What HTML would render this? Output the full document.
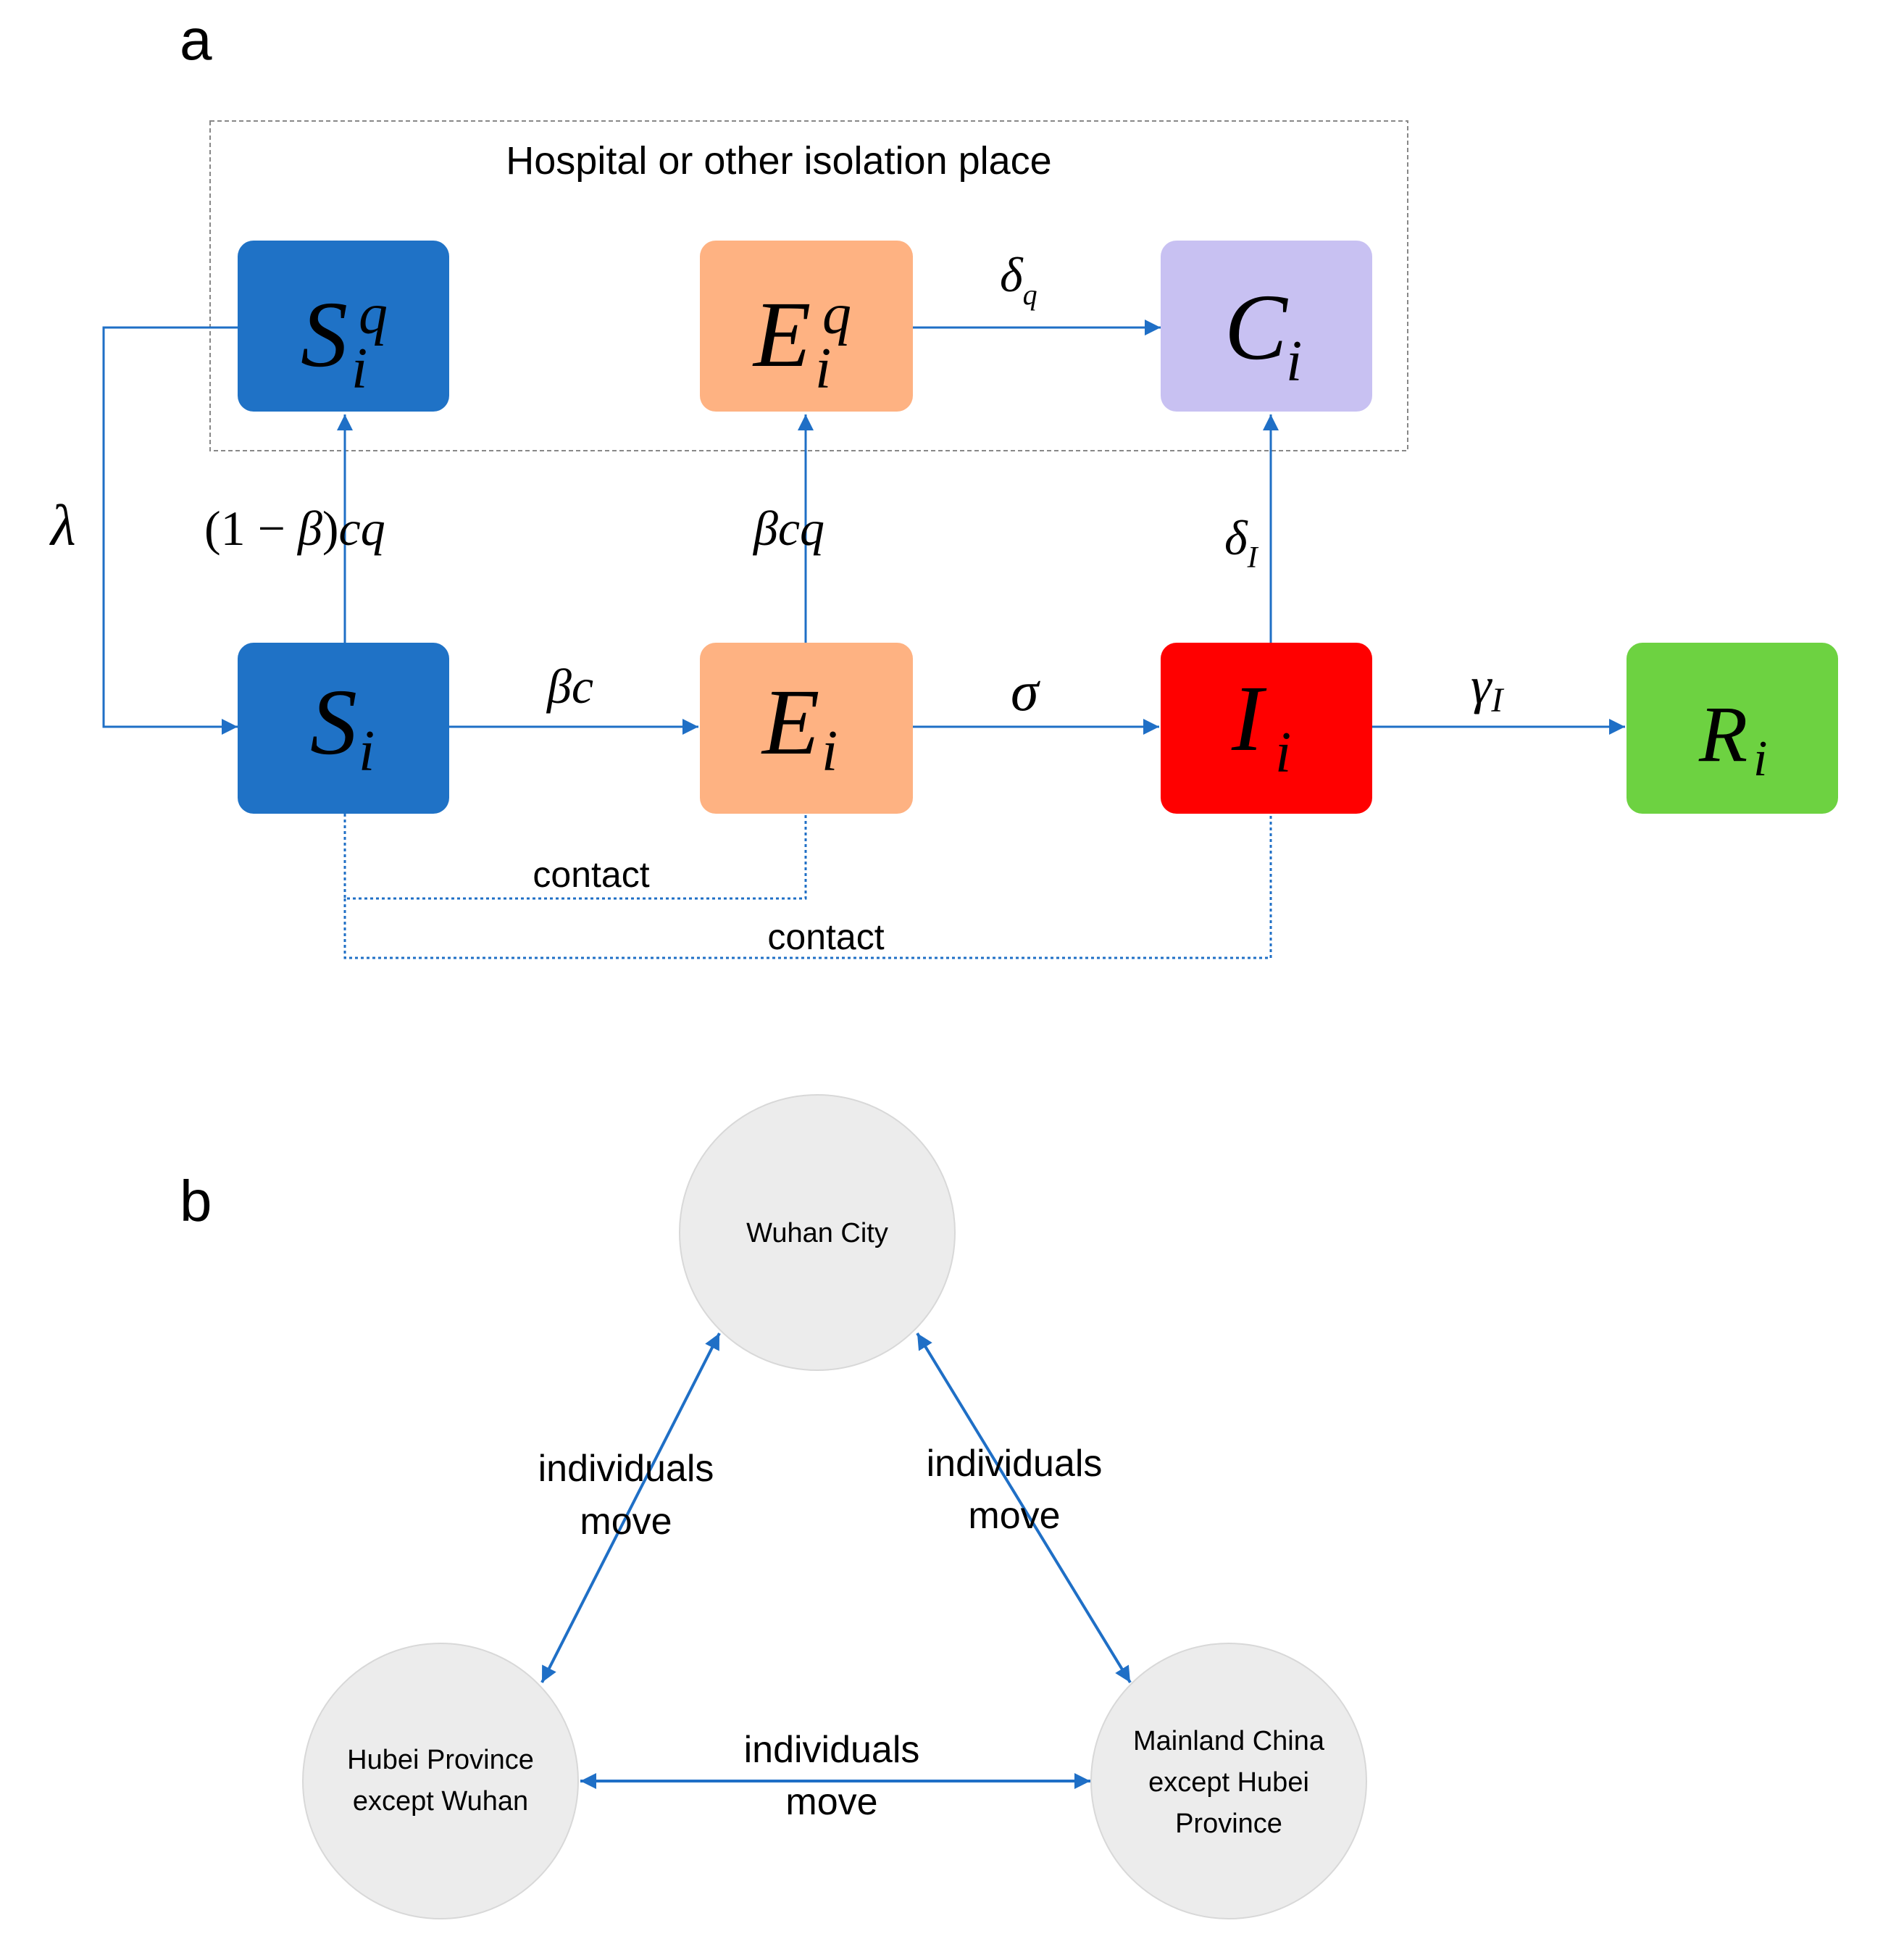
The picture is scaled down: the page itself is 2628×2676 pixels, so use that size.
<!DOCTYPE html>
<html><head><meta charset="utf-8"><style>
html,body{margin:0;padding:0;background:#fff;}
svg{display:block;}
.m{font-family:"Liberation Serif",serif;font-style:italic;fill:#000;}
.t{font-family:"Liberation Sans",sans-serif;fill:#000;}
</style></head><body>
<svg width="2628" height="2676" viewBox="0 0 2628 2676" xmlns="http://www.w3.org/2000/svg">
<defs>
<marker id="a" viewBox="0 0 10 10" refX="10" refY="5" markerWidth="22" markerHeight="22" markerUnits="userSpaceOnUse" orient="auto-start-reverse"><path d="M0,0 L10,5 L0,10 z" fill="#1f6fc6"/></marker>
</defs>
<text x="248" y="82" class="t" font-size="80">a</text>
<rect x="290" y="167" width="1653" height="455" fill="none" stroke="#888" stroke-width="2" stroke-dasharray="6,4"/>
<text x="1075" y="240" class="t" font-size="54" text-anchor="middle">Hospital or other isolation place</text>

<g stroke="#1f6fc6" stroke-width="3" fill="none">
<polyline points="330,452 143,452 143,1003 328,1003" marker-end="url(#a)"/>
<line x1="1260" y1="452" x2="1602" y2="452" marker-end="url(#a)"/>
<line x1="620" y1="1003" x2="964" y2="1003" marker-end="url(#a)"/>
<line x1="1260" y1="1003" x2="1600" y2="1003" marker-end="url(#a)"/>
<line x1="1894" y1="1003" x2="2243" y2="1003" marker-end="url(#a)"/>
<line x1="476" y1="888" x2="476" y2="572" marker-end="url(#a)"/>
<line x1="1112" y1="888" x2="1112" y2="572" marker-end="url(#a)"/>
<line x1="1754" y1="888" x2="1754" y2="572" marker-end="url(#a)"/>
</g>
<g stroke="#1f6fc6" stroke-width="3" fill="none" stroke-dasharray="4,4">
<polyline points="476,1123 476,1240 1112,1240 1112,1123"/>
<polyline points="476,1240 476,1322 1754,1322 1754,1123"/>
</g>

<rect x="328" y="332" width="292" height="236" rx="22" fill="#1f72c6"/>
<rect x="966" y="332" width="294" height="236" rx="22" fill="#feb282"/>
<rect x="1602" y="332" width="292" height="236" rx="22" fill="#c8c1f2"/>
<rect x="328" y="887" width="292" height="236" rx="22" fill="#1f72c6"/>
<rect x="966" y="887" width="294" height="236" rx="22" fill="#feb282"/>
<rect x="1602" y="887" width="292" height="236" rx="22" fill="#ff0000"/>
<rect x="2245" y="887" width="292" height="236" rx="22" fill="#6dd241"/>

<text x="415" y="505" class="m" font-size="130">S</text>
<text x="495" y="460" class="m" font-size="80">q</text>
<text x="485" y="535" class="m" font-size="80">i</text>
<text x="1040" y="505" class="m" font-size="130">E</text>
<text x="1135" y="460" class="m" font-size="80">q</text>
<text x="1125" y="535" class="m" font-size="80">i</text>
<text x="1690" y="495" class="m" font-size="130">C</text>
<text x="1775" y="525" class="m" font-size="80">i</text>
<text x="428" y="1040" class="m" font-size="130">S</text>
<text x="495" y="1063" class="m" font-size="80">i</text>
<text x="1052" y="1040" class="m" font-size="130">E</text>
<text x="1134" y="1063" class="m" font-size="80">i</text>
<text x="1700" y="1035" class="m" font-size="130">I</text>
<text x="1760" y="1065" class="m" font-size="80">i</text>
<text x="2345" y="1050" class="m" font-size="110">R</text>
<text x="2420" y="1070" class="m" font-size="70">i</text>

<text x="70" y="752" class="m" font-size="80">λ</text>
<text x="282" y="752" class="m" font-size="68"><tspan font-style="normal">(1 − </tspan>β<tspan font-style="normal">)</tspan>cq</text>
<text x="1040" y="752" class="m" font-size="68">βcq</text>
<text x="1690" y="765" class="m" font-size="68">δ<tspan font-size="42" dy="18">I</tspan></text>
<text x="1380" y="402" class="m" font-size="68">δ<tspan font-size="40" dy="18">q</tspan></text>
<text x="755" y="970" class="m" font-size="68">βc</text>
<text x="1395" y="980" class="m" font-size="78">σ</text>
<text x="2030" y="970" class="m" font-size="72">γ<tspan font-size="48" dy="12">I</tspan></text>

<text x="816" y="1224" class="t" font-size="50" text-anchor="middle">contact</text>
<text x="1140" y="1310" class="t" font-size="50" text-anchor="middle">contact</text>

<text x="248" y="1685" class="t" font-size="80">b</text>
<g fill="#ececec" stroke="#d8d8d8" stroke-width="2">
<circle cx="1128" cy="1701" r="190"/>
<circle cx="608" cy="2458" r="190"/>
<circle cx="1696" cy="2458" r="190"/>
</g>
<g class="t" font-size="38" text-anchor="middle">
<text x="1128" y="1714">Wuhan City</text>
<text x="608" y="2441">Hubei Province</text>
<text x="608" y="2498">except Wuhan</text>
<text x="1696" y="2415">Mainland China</text>
<text x="1696" y="2472">except Hubei</text>
<text x="1696" y="2529">Province</text>
</g>
<g stroke="#1f6fc6" stroke-width="4" fill="none">
<line x1="993" y1="1840" x2="748" y2="2322" marker-start="url(#a)" marker-end="url(#a)"/>
<line x1="1266" y1="1840" x2="1560" y2="2322" marker-start="url(#a)" marker-end="url(#a)"/>
<line x1="801" y1="2458" x2="1505" y2="2458" marker-start="url(#a)" marker-end="url(#a)"/>
</g>
<g class="t" font-size="52" text-anchor="middle">
<text x="864" y="2044">individuals</text>
<text x="864" y="2117">move</text>
<text x="1400" y="2037">individuals</text>
<text x="1400" y="2109">move</text>
<text x="1148" y="2432">individuals</text>
<text x="1148" y="2504">move</text>
</g>
</svg>
</body></html>
